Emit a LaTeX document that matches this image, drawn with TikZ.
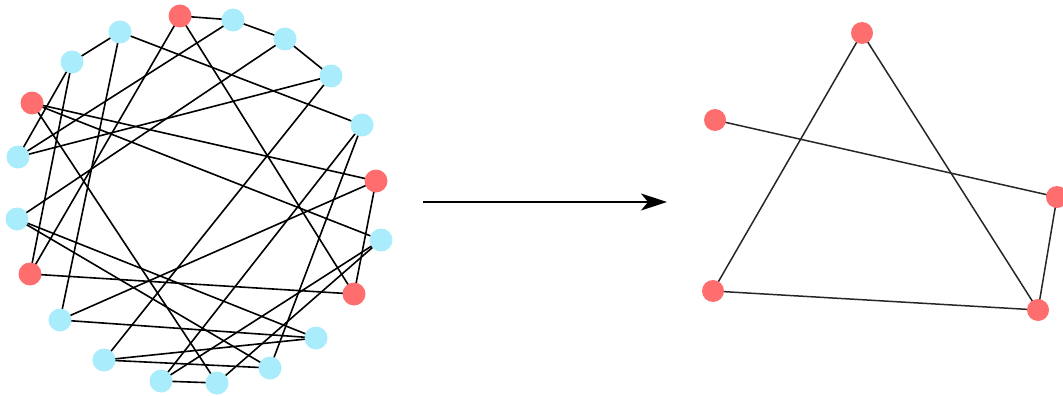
\documentclass[tikz,border=0pt]{standalone}
\usetikzlibrary{arrows.meta,backgrounds}
\definecolor{nred}{HTML}{FF6E6E}
\definecolor{nblue}{HTML}{A9ECFB}
\begin{document}
\begin{tikzpicture}[x=1pt,y=-1pt,
  vr/.style={circle,fill=nred,draw=none,minimum size=23pt,inner sep=0pt},
  vb/.style={circle,fill=nblue,draw=none,minimum size=23pt,inner sep=0pt},
  wr/.style={circle,fill=nred,draw=none,minimum size=22pt,inner sep=0pt},
  edge/.style={draw=black,line width=1.6pt},
  redge/.style={draw=black!85,line width=1.5pt}]
\useasboundingbox (0,0) rectangle (1063,396);
% left graph
\node[vr] (R1) at (180,16) {};
\node[vb] (B1) at (233,20) {};
\node[vb] (B2) at (285,39) {};
\node[vb] (B3) at (331,76) {};
\node[vb] (B4) at (362,125) {};
\node[vr] (R2) at (376,181) {};
\node[vb] (B5) at (381,240) {};
\node[vr] (R3) at (354,294) {};
\node[vb] (B6) at (316,338) {};
\node[vb] (B7) at (270,368) {};
\node[vb] (B8) at (217,383) {};
\node[vb] (B9) at (161,381) {};
\node[vb] (B10) at (104,360) {};
\node[vb] (B11) at (60,320) {};
\node[vr] (R4) at (30,274) {};
\node[vb] (B12) at (17,219) {};
\node[vb] (B13) at (18,157) {};
\node[vr] (R5) at (32,103) {};
\node[vb] (B14) at (72,62) {};
\node[vb] (B15) at (120,32) {};
% right graph
\node[wr] (T) at (862,33) {};
\node[wr] (L) at (715,120) {};
\node[wr] (RR) at (1057,197) {};
\node[wr] (BL) at (713,291) {};
\node[wr] (BR) at (1038,310) {};
% arrow
\coordinate (a0) at (423,202);
\coordinate (a1) at (667,202);
\draw[line width=1.5pt,-{Stealth[length=26pt,width=17pt,inset=7pt]}] (a0) -- (a1);
\begin{pgfonlayer}{background}
\foreach \a/\b in {R1/B1,R1/R4,R1/R3,B1/B2,B1/B13,B2/B3,B2/B12,B3/B13,B3/B10,
  B4/B15,B4/B9,B4/B7,R2/R5,R2/R3,R2/B11,B5/R5,B5/B9,B5/B8,R3/R4,B6/B12,B6/B11,B6/B10,
  B7/B10,B7/B12,B8/B9,B8/R5,B14/B15,B14/B13,B14/R4,B15/B11}
  \draw[edge] (\a.center) -- (\b.center);
\foreach \a/\b in {T/BL,T/BR,L/RR,BL/BR,RR/BR}
  \draw[redge] (\a.center) -- (\b.center);
\end{pgfonlayer}
\end{tikzpicture}
\end{document}
